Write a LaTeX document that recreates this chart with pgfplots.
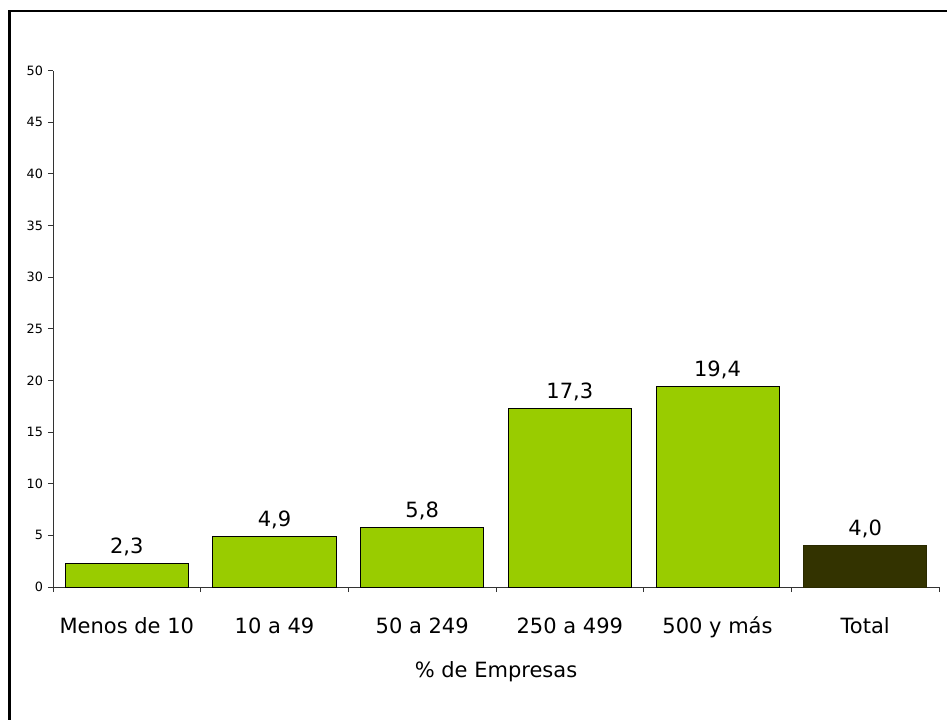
\documentclass[border=0pt]{standalone}
\usepackage{pgfplots}
\pgfplotsset{compat=1.18}
\usepackage{fontspec}
\setmainfont{DejaVu Sans}
\definecolor{barra}{RGB}{153,204,0}
\definecolor{total}{RGB}{51,51,0}
\begin{document}
\begin{tikzpicture}
% 1 px of the reference = 0.5pt
\path[use as bounding box] (0,0) rectangle (473.5pt,359.5pt);
\draw[line width=1.3pt] (4.8pt,-20pt) -- (4.8pt,353.9pt) -- (490pt,353.9pt);
\begin{axis}[
	at={(26.5pt,66pt)},
	anchor=south west,
	scale only axis,
	width=443pt,
	height=258.2pt,
	ybar,
	bar width=0.833,
	xmin=-0.5, xmax=5.5,
	ymin=0, ymax=50,
	ytick={0,5,...,50},
	xtick={0,...,5},
	xticklabels={Menos de 10,10 a 49,50 a 249,250 a 499,500 y más,Total},
	minor xtick={-0.5,0.5,1.5,2.5,3.5,4.5,5.5},
	major x tick style={draw=none},
	axis x line*=bottom,
	axis y line*=left,
	axis line style={line width=0.5pt, black!80},
	tick style={line width=0.5pt, black!80},
	tick align=outside,
	tick pos=left,
	major tick length=2.5pt,
	minor tick length=2.5pt,
	/pgf/number format/assume math mode=true,
	yticklabel style={font=\fontsize{6.4}{7}\selectfont, inner sep=0pt, xshift=-2.3pt},
	xticklabel style={font=\fontsize{10.5}{12}\selectfont, anchor=base, inner sep=0pt, yshift=-20.5pt},
	xlabel={\% de Empresas},
	xlabel style={font=\fontsize{10.5}{12}\selectfont, at={(axis description cs:0.5,0)}, anchor=base, inner sep=0pt, yshift=-45pt},
	nodes near coords,
	nodes near coords style={font=\fontsize{10.5}{12}\selectfont, anchor=base, inner sep=0pt, yshift=5pt,
		/pgf/number format/.cd, fixed, fixed zerofill, precision=1, use comma},
	]
	\addplot[fill=barra, draw=black, line width=0.5pt, bar shift=0pt] coordinates {(0,2.3) (1,4.9) (2,5.8) (3,17.3) (4,19.4)};
	\addplot[fill=total, draw=total!80!black, line width=0.5pt, bar shift=0pt] coordinates {(5,4.0)};
\end{axis}
\end{tikzpicture}
\end{document}
